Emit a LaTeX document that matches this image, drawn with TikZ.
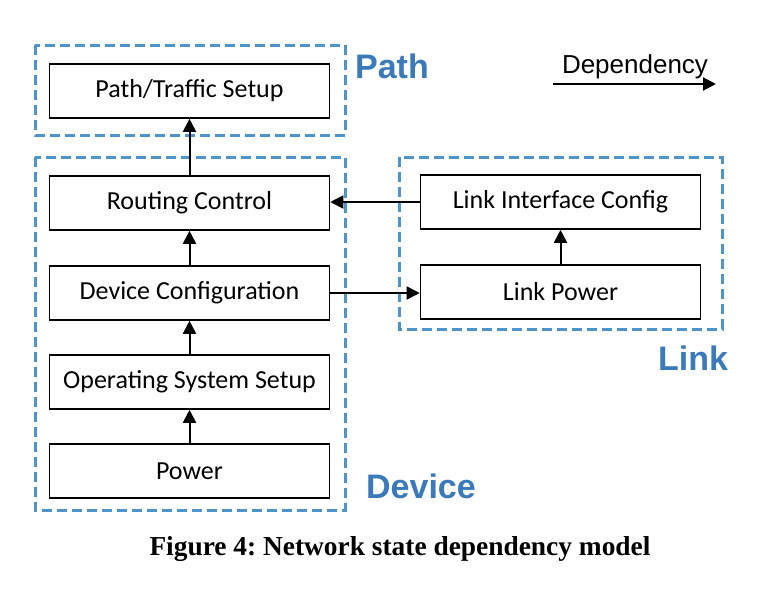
\documentclass[tikz,border=0pt]{standalone}
\usepackage{fontspec}
\setmainfont{Carlito}
\newfontfamily\arialfont{Liberation Sans}
\newfontfamily\timesfont{Liberation Serif}
\usetikzlibrary{arrows.meta}
\definecolor{grpblue}{RGB}{78,148,204}
\definecolor{lblblue}{RGB}{58,122,187}
\tikzset{
  state/.style={draw,line width=0.8pt,minimum width=140pt,minimum height=27pt,font=\fontsize{13}{15}\selectfont},
  grp/.style={draw=grpblue,line width=1.5pt,dash pattern=on 5pt off 2.5pt},
  grplabel/.style={text=lblblue,font=\arialfont\bfseries\fontsize{17}{19}\selectfont},
  dep/.style={-{Triangle[length=6.5pt,width=6.5pt]},line width=1pt}
}
\begin{document}
\frenchspacing
\begin{tikzpicture}[x=0.5pt,y=-0.5pt]
\useasboundingbox (0,0) rectangle (784,600);
% groups
\draw[grp] (35,45) rectangle (345,135);
\draw[grp] (35,157) rectangle (345,510);
\draw[grp] (399,157) rectangle (722,329);
\node[grplabel] (path) at (392,66) {Path};
\node[grplabel] (link) at (693,358) {Link};
\node[grplabel] (device) at (421,486) {Device};
% states
\node[state] (traffic) at (189.5,91) {Path/Traffic Setup};
\node[state] (routing) at (189.5,203) {Routing Control};
\node[state] (config) at (189.5,293) {Device Configuration};
\node[state] (os) at (189.5,382) {Operating System Setup};
\node[state] (power) at (189.5,471) {Power};
\node[state] (iface) at (560.5,202) {Link Interface Config};
\node[state] (lpower) at (560.5,292) {Link Power};
% dependencies
\draw[dep] (power) -- (os);
\draw[dep] (os) -- (config);
\draw[dep] (config) -- (routing);
\draw[dep] (routing) -- (traffic);
\draw[dep] (lpower) -- (iface);
\draw[dep] (iface.west) -- (routing.east |- iface.west);
\draw[dep] (config.east) -- (lpower.west |- config.east);
% legend
\coordinate (legA) at (553,84);
\coordinate (legB) at (716,84);
\draw[dep] (legA) -- (legB);
\node[font=\arialfont\fontsize{13}{15}\selectfont] (legend) at (635,67) {Dependency};
% caption
\node[font=\timesfont\bfseries\fontsize{13.7}{16}\selectfont] (caption) at (400,549) {Figure 4: Network state dependency model};
\end{tikzpicture}
\end{document}
